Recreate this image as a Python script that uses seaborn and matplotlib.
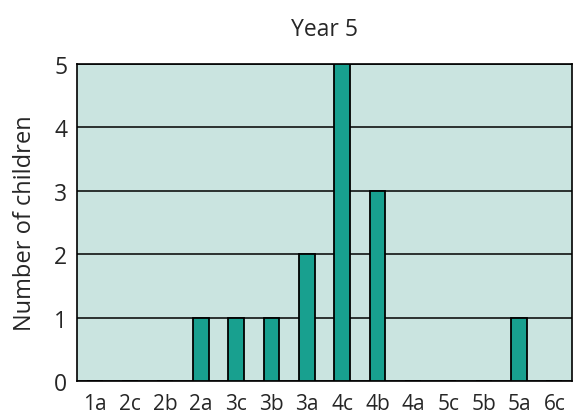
import matplotlib
matplotlib.use("Agg")
import matplotlib.pyplot as plt
import seaborn as sns
import pandas as pd
import numpy as np
from matplotlib.ticker import FixedLocator

levels = ["1a", "2c", "2b", "2a", "3c", "3b", "3a", "4c", "4b", "4a", "5c", "5b", "5a", "6c"]
children = [0, 0, 0, 1, 1, 1, 2, 5, 3, 0, 0, 0, 1, 0]

df = pd.DataFrame({"level": levels, "children": children})

sns.set_style("white")
plt.rcParams["font.family"] = ["Open Sans", "DejaVu Sans"]

fig = plt.figure(figsize=(5.73, 4.14), dpi=100)
ax = fig.add_axes([77 / 573, 32 / 414, 495 / 573, 317 / 414])
ax.set_facecolor("#cae4e0")

sns.barplot(data=df, x="level", y="children", ax=ax, color="#18a08f",
            saturation=1, width=0.45, edgecolor="black", linewidth=1.3, zorder=3)

ax.set_ylim(0, 5)
ax.set_xlim(-0.5, len(levels) - 0.5)
ax.set_yticks(range(6))
ax.yaxis.grid(True, color="black", linewidth=1.1, zorder=1)
ax.set_axisbelow(True)

ax.xaxis.set_minor_locator(FixedLocator(np.arange(0.5, len(levels) - 0.5, 1)))
ax.tick_params(axis="x", which="major", length=0, pad=9, labelsize=15)
ax.tick_params(axis="x", which="minor", length=6, width=1.1, color="black", direction="out")
ax.tick_params(axis="y", length=5, width=1.1, color="black", labelsize=16.5, pad=2, direction="out")

for s in ax.spines.values():
    s.set_color("black")
    s.set_linewidth(1.2)

ax.set_xlabel("")
ax.set_ylabel("Number of children", fontsize=17, labelpad=12)
ax.set_title("Year 5", fontsize=16.5, pad=21)

fig.savefig("out.png", dpi=100)
